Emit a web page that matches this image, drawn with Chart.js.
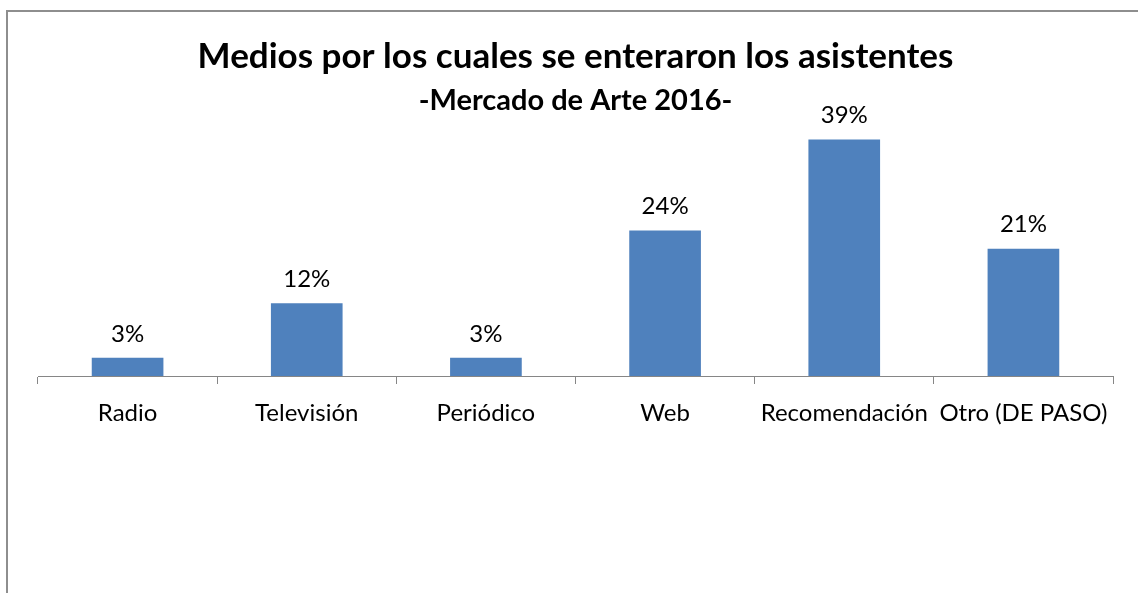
<!DOCTYPE html>
<html>
<head>
<meta charset="utf-8">
<script src="https://cdn.jsdelivr.net/npm/chart.js@4"></script>
<style>
  html, body { margin: 0; padding: 0; background: #fff; overflow: hidden; }
  #frame { position: absolute; left: 6px; top: 10px; width: 1200px; height: 700px;
           border-left: 2px solid #8e8e8e; border-top: 2px solid #8e8e8e; }
  #wrap { position: absolute; left: 0; top: 0; width: 1138px; height: 593px; }
</style>
</head>
<body>
<div id="frame"></div>
<div id="wrap"><canvas id="c" width="1138" height="593"></canvas></div>
<script>
const categories = ["Radio", "Televisión", "Periódico", "Web", "Recomendación", "Otro (DE PASO)"];
const values = [3, 12, 3, 24, 39, 21];
const valueLabels = ["3%", "12%", "3%", "24%", "39%", "21%"];
const titleText = "Medios por los cuales se enteraron los asistentes";
const subtitleText = "-Mercado de Arte 2016-";

const FONT = "Lato, 'Open Sans', sans-serif";

const barLabels = {
  id: 'barLabels',
  afterDatasetsDraw(chart) {
    const ctx = chart.ctx;
    const meta = chart.getDatasetMeta(0);
    ctx.save();
    ctx.font = "24px " + FONT;
    ctx.fillStyle = "#000";
    ctx.textAlign = "center";
    ctx.textBaseline = "middle";
    meta.data.forEach((bar, i) => {
      ctx.fillText(valueLabels[i], bar.x, bar.y - 24);
    });
    ctx.restore();
  }
};

new Chart(document.getElementById('c'), {
  type: 'bar',
  data: {
    labels: categories,
    datasets: [{
      data: values,
      backgroundColor: '#4F81BD',
      borderWidth: 0,
      barPercentage: 0.4,
      categoryPercentage: 1.0
    }]
  },
  options: {
    responsive: false,
    animation: false,
    events: [],
    layout: { padding: { left: 38, right: 25, top: 0, bottom: 0 } },
    plugins: {
      legend: { display: false },
      tooltip: { enabled: false },
      title: {
        display: true,
        text: titleText,
        color: '#000',
        font: { family: FONT, size: 35, weight: 'bold' },
        padding: { top: 36, bottom: 5 }
      },
      subtitle: {
        display: true,
        text: subtitleText,
        color: '#000',
        font: { family: FONT, size: 29, weight: 'bold' },
        padding: { top: 0, bottom: 0 }
      }
    },
    scales: {
      x: {
        offset: true,
        grid: { display: true, offset: true, drawOnChartArea: false, drawTicks: true, tickLength: 8, color: '#868686', lineWidth: 1 },
        border: { display: true, color: '#868686', width: 1 },
        ticks: { color: '#000', font: { family: FONT, size: 24 }, padding: 15, maxRotation: 0, autoSkip: false },
        afterFit(scale) { scale.height = 593 - 376; }
      },
      y: {
        display: false,
        min: 0,
        max: 42.6
      }
    }
  },
  plugins: [barLabels]
});
</script>
</body>
</html>
